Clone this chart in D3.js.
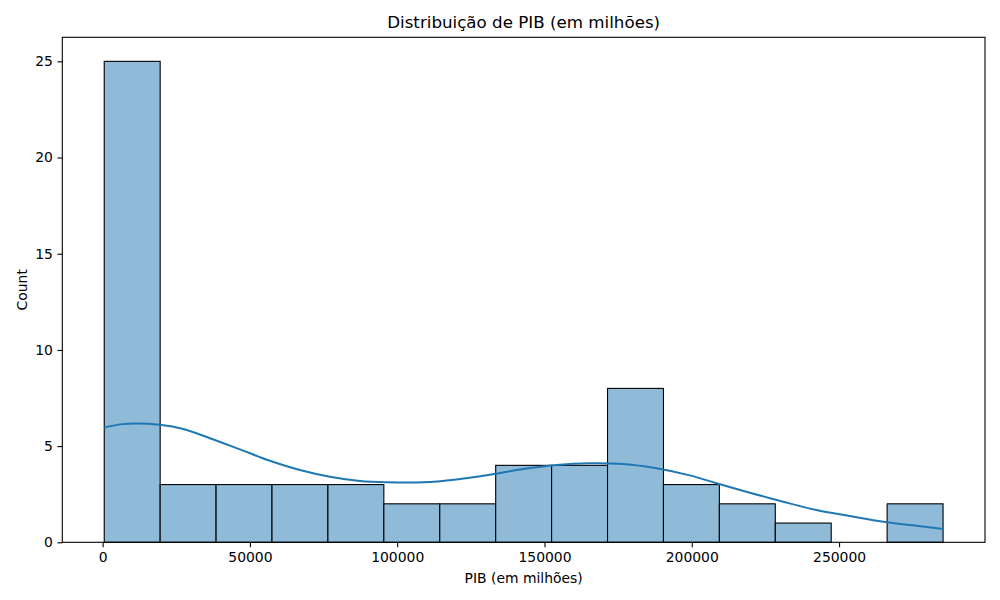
<!DOCTYPE html>
<html>
<head>
<meta charset="utf-8">
<script src="https://cdn.jsdelivr.net/npm/d3@7"></script>
<style>
  body { margin: 0; background: #fff; }
  text { font-family: "DejaVu Sans", sans-serif; }
</style>
</head>
<body>
<svg id="chart" width="1000" height="600"></svg>
<script>
// histogram bins (PIB em milhões)
const binEdges = [543, 19527, 38511, 57495, 76479, 95463, 114447, 133431, 152415,
                  171399, 190383, 209367, 228351, 247335, 266319, 285303];
const counts = [25, 3, 3, 3, 3, 2, 2, 4, 4, 8, 3, 2, 1, 0, 2];

// kde curve (x in PIB, y in count units)
const kdeX = [543, 5872, 11540, 19448, 27356, 36418, 46600, 56782, 66964, 77146,
              87328, 96390, 108812, 120148, 131450, 142752, 154088, 165390, 176692,
              188028, 199330, 208392, 219694, 230996, 242332, 253634, 264936, 276272, 285303];
const kdeY = [5.96, 6.13, 6.18, 6.11, 5.89, 5.41, 4.83, 4.24, 3.76, 3.41,
              3.19, 3.12, 3.12, 3.27, 3.51, 3.81, 4.02, 4.11, 4.07,
              3.85, 3.48, 3.07, 2.58, 2.11, 1.68, 1.37, 1.07, 0.86, 0.69];

const xTicks = [0, 50000, 100000, 150000, 200000, 250000];
const yTicks = [0, 5, 10, 15, 20, 25];

const margin = {top: 37.3, right: 15, bottom: 57.7, left: 62.3};
const W = 1000, H = 600;
const iw = W - margin.left - margin.right;
const ih = H - margin.top - margin.bottom;

const svg = d3.select("#chart");
const g = svg.append("g").attr("transform", `translate(${margin.left},${margin.top})`);

const span = binEdges[binEdges.length - 1] - binEdges[0];
const x = d3.scaleLinear()
  .domain([binEdges[0] - span * 0.05, binEdges[binEdges.length - 1] + span * 0.05])
  .range([0, iw]);
const y = d3.scaleLinear().domain([0, d3.max(counts) * 1.05]).range([ih, 0]);

// bars
g.selectAll("rect.bar")
  .data(counts)
  .enter().append("rect")
  .attr("class", "bar")
  .attr("x", (d, i) => x(binEdges[i]))
  .attr("width", (d, i) => x(binEdges[i + 1]) - x(binEdges[i]))
  .attr("y", d => y(d))
  .attr("height", d => y(0) - y(d))
  .attr("fill", "#8fbbd9")
  .attr("stroke", "#000")
  .attr("stroke-width", 1.1);

// kde
const line = d3.line()
  .x(d => x(d[0]))
  .y(d => y(d[1]))
  .curve(d3.curveCatmullRom);
g.append("path")
  .datum(kdeX.map((v, i) => [v, kdeY[i]]))
  .attr("d", line)
  .attr("fill", "none")
  .attr("stroke", "#1f77b4")
  .attr("stroke-width", 2);

// axes
const xAxis = g.append("g")
  .attr("transform", `translate(0,${ih})`)
  .call(d3.axisBottom(x).tickValues(xTicks).tickFormat(d3.format("d")).tickSize(4.9).tickPadding(4.5));
const yAxis = g.append("g")
  .call(d3.axisLeft(y).tickValues(yTicks).tickSize(4.9).tickPadding(4.5));
[xAxis, yAxis].forEach(a => {
  a.select(".domain").remove();
  a.selectAll("line").attr("stroke", "#000").attr("stroke-width", 1.1);
  a.selectAll("text").attr("font-size", "13.9px").attr("fill", "#000")
    .style("font-family", "DejaVu Sans, sans-serif");
});

// frame
g.append("rect")
  .attr("width", iw).attr("height", ih)
  .attr("fill", "none").attr("stroke", "#000").attr("stroke-width", 1.1);

// labels
svg.append("text")
  .attr("x", margin.left + iw / 2).attr("y", 28)
  .attr("text-anchor", "middle").attr("font-size", "16.7px")
  .text("Distribuição de PIB (em milhões)");
svg.append("text")
  .attr("x", margin.left + iw / 2).attr("y", 583)
  .attr("text-anchor", "middle").attr("font-size", "13.9px")
  .text("PIB (em milhões)");
svg.append("text")
  .attr("transform", `translate(27,${margin.top + ih / 2}) rotate(-90)`)
  .attr("text-anchor", "middle").attr("font-size", "13.9px")
  .text("Count");
</script>
</body>
</html>
